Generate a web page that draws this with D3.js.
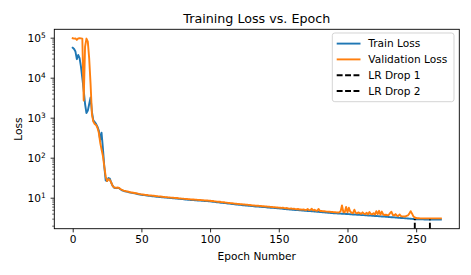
<!DOCTYPE html>
<html>
<head>
<meta charset="utf-8">
<script src="https://cdn.jsdelivr.net/npm/d3@7"></script>
<style>
  html, body { margin: 0; padding: 0; background: #fff; }
  svg { display: block; font-family: "DejaVu Sans", sans-serif; }
</style>
</head>
<body>
<svg id="chart" width="471" height="275"></svg>
<script>
// ---------------- data ----------------
const epochs = d3.range(0, 269); // epoch indices 0..268 (category axis)
const trainLoss = [
  56000, 52000, 45000, 29000, 37000, 31000, 19000, 9800, 4900, 2200,
  1300, 1500, 2200, 3200, 1400, 850, 780, 700, 600, 480,
  280, 420, 170, 60, 27, 26, 31, 30, 24, 20,
  18, 17.5, 17.3, 17.6, 17, 16, 15.2, 14.8, 14.5, 14.2,
  14.0, 13.7, 13.4, 13.2, 13.0, 12.8, 12.6, 12.4, 12.2, 12.0,
  11.8, 11.7, 11.6, 11.5, 11.4, 11.2, 11.1, 11.0, 10.9, 10.8,
  10.7, 10.6, 10.5, 10.45, 10.4, 10.3, 10.2, 10.1, 10.05, 9.95,
  9.9, 9.8, 9.75, 9.7, 9.6, 9.55, 9.5, 9.4, 9.35, 9.25,
  9.2, 9.1, 9.05, 9.0, 8.9, 8.85, 8.8, 8.75, 8.7, 8.65,
  8.6, 8.55, 8.5, 8.45, 8.4, 8.35, 8.3, 8.25, 8.2, 8.15,
  8.1, 8.0, 7.95, 7.85, 7.8, 7.7, 7.65, 7.6, 7.5, 7.45,
  7.4, 7.3, 7.25, 7.15, 7.1, 7.0, 6.95, 6.9, 6.8, 6.75,
  6.7, 6.65, 6.6, 6.55, 6.5, 6.45, 6.4, 6.35, 6.3, 6.25,
  6.2, 6.15, 6.1, 6.05, 6.0, 5.98, 5.95, 5.9, 5.85, 5.82,
  5.8, 5.75, 5.7, 5.67, 5.63, 5.6, 5.56, 5.52, 5.48, 5.44,
  5.4, 5.36, 5.32, 5.28, 5.24, 5.2, 5.16, 5.12, 5.08, 5.04,
  5.0, 4.97, 4.94, 4.91, 4.88, 4.85, 4.82, 4.79, 4.76, 4.73,
  4.7, 4.67, 4.64, 4.61, 4.58, 4.55, 4.52, 4.49, 4.46, 4.43,
  4.4, 4.37, 4.34, 4.31, 4.28, 4.25, 4.22, 4.19, 4.16, 4.13,
  4.1, 4.08, 4.06, 4.04, 4.02, 4.0, 3.98, 3.96, 3.94, 3.92,
  3.9, 3.88, 3.86, 3.84, 3.82, 3.8, 3.78, 3.76, 3.74, 3.72,
  3.7, 3.68, 3.66, 3.64, 3.62, 3.6, 3.58, 3.56, 3.54, 3.52,
  3.5, 3.48, 3.46, 3.44, 3.42, 3.4, 3.38, 3.36, 3.34, 3.32,
  3.3, 3.28, 3.26, 3.24, 3.22, 3.2, 3.18, 3.16, 3.14, 3.12,
  3.1, 3.08, 3.06, 3.04, 3.02, 3.0, 2.98, 2.96, 2.94, 2.92,
  2.9, 2.89, 2.88, 2.88, 2.87, 2.87, 2.86, 2.86, 2.86, 2.85,
  2.85, 2.85, 2.85, 2.85, 2.85, 2.85, 2.85, 2.85, 2.85
];
const valLoss = [
  97000, 95000, 96000, 88000, 96000, 97000, 96000, 95000, 2700, 60000,
  95000, 80000, 30000, 7000, 1200, 800, 700, 660, 560, 420,
  240, 160, 110, 60, 34, 26, 29, 28, 24, 20,
  18.2, 17.8, 17.7, 18.0, 17.3, 16.3, 15.6, 15.1, 14.8, 14.5,
  14.3, 14.0, 13.7, 13.5, 13.3, 13.1, 12.9, 12.7, 12.5, 12.3,
  12.1, 12.0, 11.9, 11.8, 11.7, 11.55, 11.45, 11.35, 11.25, 11.15,
  11.05, 10.95, 10.85, 10.8, 10.7, 10.6, 10.5, 10.4, 10.35, 10.25,
  10.2, 10.1, 10.05, 10.0, 9.9, 9.85, 9.8, 9.7, 9.65, 9.55,
  9.5, 9.4, 9.35, 9.3, 9.2, 9.15, 9.1, 9.05, 9.0, 8.95,
  8.9, 8.85, 8.8, 8.75, 8.7, 8.65, 8.6, 8.55, 8.5, 8.45,
  8.4, 8.3, 8.25, 8.15, 8.1, 8.0, 7.95, 7.9, 7.8, 7.75,
  7.7, 7.6, 7.55, 7.45, 7.4, 7.3, 7.25, 7.2, 7.1, 7.05,
  7.0, 6.95, 6.9, 6.85, 6.8, 6.75, 6.7, 6.65, 6.6, 6.55,
  6.5, 6.45, 6.4, 6.35, 6.3, 6.27, 6.24, 6.19, 6.14, 6.1,
  6.07, 6.02, 5.97, 5.94, 5.9, 5.87, 5.82, 5.78, 5.74, 5.7,
  5.66, 5.62, 5.58, 5.63, 5.5, 5.46, 5.52, 5.38, 5.34, 5.4,
  5.25, 5.32, 5.18, 5.15, 5.22, 5.09, 5.06, 5.03, 5.1, 4.97,
  4.94, 5.2, 4.88, 4.95, 5.3, 4.8, 5.0, 4.75, 4.72, 5.25,
  4.66, 4.7, 4.6, 4.57, 4.54, 4.5, 4.48, 4.45, 4.42, 4.39,
  4.36, 4.33, 4.3, 4.28, 4.3, 4.6, 6.4, 4.4, 4.3, 5.9,
  4.3, 5.6, 4.5, 4.2, 4.1, 5.0, 4.2, 4.05, 4.3, 4.1,
  3.95, 4.3, 4.0, 3.9, 4.2, 3.85, 4.4, 3.9, 3.85, 4.1,
  3.8, 4.6, 3.9, 4.7, 3.75, 4.5, 3.8, 3.7, 3.75, 3.65,
  3.7, 4.1, 4.45, 3.7, 3.6, 3.9, 3.55, 3.5, 3.8, 3.45,
  3.42, 3.4, 3.38, 3.5, 3.6, 4.0, 4.6, 4.0, 3.4, 3.2,
  3.1, 3.07, 3.06, 3.05, 3.05, 3.05, 3.04, 3.04, 3.04, 3.04,
  3.04, 3.04, 3.04, 3.04, 3.04, 3.04, 3.04, 3.04, 3.04
];
const lrDropEpochs = [249, 260];
const seriesNames = ["Train Loss", "Validation Loss", "LR Drop 1", "LR Drop 2"];
const xTickValues = [0, 50, 100, 150, 200, 250];
const yTickValues = [10, 100, 1000, 10000, 100000];

// ---------------- layout ----------------
const svg = d3.select("#chart");
const L = 54.3, R = 459.3, T = 29.3, B = 228.7;
const blue = "#1f77b4", orange = "#ff7f0e";
const fontSize = 10.6;
const lw = 1.9;

const x = d3.scaleLinear().domain([-13.4, 281.4]).range([L, R]);
const y = d3.scaleLog().domain([1.68, 162000]).range([B, T]);

// lines
const trainData = epochs.map((e, i) => [e, trainLoss[i]]);
const valData = epochs.map((e, i) => [e, valLoss[i]]);
const line = d3.line().x(d => x(d[0])).y(d => y(d[1]));

svg.append("clipPath").attr("id", "clip")
  .append("rect").attr("x", L).attr("y", T).attr("width", R - L).attr("height", B - T);

const plot = svg.append("g").attr("clip-path", "url(#clip)");
plot.append("path").datum(trainData).attr("d", line)
  .attr("fill", "none").attr("stroke", blue).attr("stroke-width", lw)
  .attr("stroke-linejoin", "round").attr("stroke-linecap", "square");
plot.append("path").datum(valData).attr("d", line)
  .attr("fill", "none").attr("stroke", orange).attr("stroke-width", lw)
  .attr("stroke-linejoin", "round").attr("stroke-linecap", "square");

// LR drop vertical dashed lines
lrDropEpochs.forEach(e => {
  plot.append("line")
    .attr("x1", x(e)).attr("x2", x(e))
    .attr("y1", y(y.domain()[0])).attr("y2", y(trainLoss[e]))
    .attr("stroke", "#000").attr("stroke-width", lw)
    .attr("stroke-dasharray", "5.9,2.5");
});

// axes
const xAxis = d3.axisBottom(x).tickValues(xTickValues).tickSize(3.7).tickPadding(3.5).tickFormat(d3.format("d"));
const gx = svg.append("g").attr("transform", `translate(0,${B})`).call(xAxis);
gx.select(".domain").remove();
gx.selectAll(".tick line").attr("stroke", "#000").attr("stroke-width", 0.85);
gx.selectAll(".tick text").attr("fill", "#000").attr("font-size", fontSize)
  .attr("font-family", "DejaVu Sans");

const yAxis = d3.axisLeft(y).tickValues(yTickValues).tickSize(3.7).tickPadding(3.5);
const gy = svg.append("g").attr("transform", `translate(${L},0)`).call(yAxis);
gy.select(".domain").remove();
gy.selectAll(".tick line").attr("stroke", "#000").attr("stroke-width", 0.85);
gy.selectAll(".tick text").attr("fill", "#000").attr("font-size", fontSize)
  .attr("font-family", "DejaVu Sans").attr("x", -8.5)
  .text(null)
  .each(function(d) {
    const t = d3.select(this);
    t.append("tspan").text("10");
    t.append("tspan").attr("dy", "-0.45em").attr("font-size", 7.4)
      .text(Math.round(Math.log10(d)));
  });

// minor y ticks
const minor = [];
for (let k = 0; k <= 5; k++) {
  for (let m = 2; m <= 9; m++) {
    const v = m * Math.pow(10, k);
    if (v >= y.domain()[0] && v <= y.domain()[1]) minor.push(v);
  }
}
const yMinor = d3.axisLeft(y).tickValues(minor).tickSize(2.1).tickFormat("");
const gym = svg.append("g").attr("transform", `translate(${L},0)`).call(yMinor);
gym.select(".domain").remove();
gym.selectAll(".tick line").attr("stroke", "#000").attr("stroke-width", 0.63);

// frame
svg.append("rect").attr("x", L).attr("y", T).attr("width", R - L).attr("height", B - T)
  .attr("fill", "none").attr("stroke", "#000").attr("stroke-width", 0.9);

// labels
svg.append("text").attr("x", (L + R) / 2).attr("y", 23.3).attr("text-anchor", "middle")
  .attr("font-size", 12.7).attr("fill", "#000").text("Training Loss vs. Epoch");
svg.append("text").attr("x", (L + R) / 2).attr("y", 259.5).attr("text-anchor", "middle")
  .attr("font-size", fontSize).attr("fill", "#000").text("Epoch Number");
svg.append("text").attr("transform", `translate(21.5,${(T + B) / 2}) rotate(-90)`)
  .attr("text-anchor", "middle").attr("font-size", fontSize).attr("fill", "#000").text("Loss");

// legend
const leg = svg.append("g");
leg.append("rect").attr("x", 332.3).attr("y", 33).attr("width", 121.7).attr("height", 68.7)
  .attr("rx", 2.5).attr("fill", "#fff").attr("fill-opacity", 0.8)
  .attr("stroke", "#cccccc").attr("stroke-width", 0.85);
const legStyles = [
  { color: blue, dash: null },
  { color: orange, dash: null },
  { color: "#000", dash: "5.9,2.5" },
  { color: "#000", dash: "5.9,2.5" }
];
seriesNames.forEach((name, i) => {
  const cy = 43.6 + i * 15.8;
  const l = leg.append("line").attr("x1", 336.7).attr("x2", 360.5)
    .attr("y1", cy).attr("y2", cy)
    .attr("stroke", legStyles[i].color).attr("stroke-width", lw);
  if (legStyles[i].dash) l.attr("stroke-dasharray", legStyles[i].dash);
  leg.append("text").attr("x", 368.3).attr("y", cy).attr("dy", "0.36em")
    .attr("font-size", fontSize).attr("fill", "#000").text(name);
});
</script>
</body>
</html>
